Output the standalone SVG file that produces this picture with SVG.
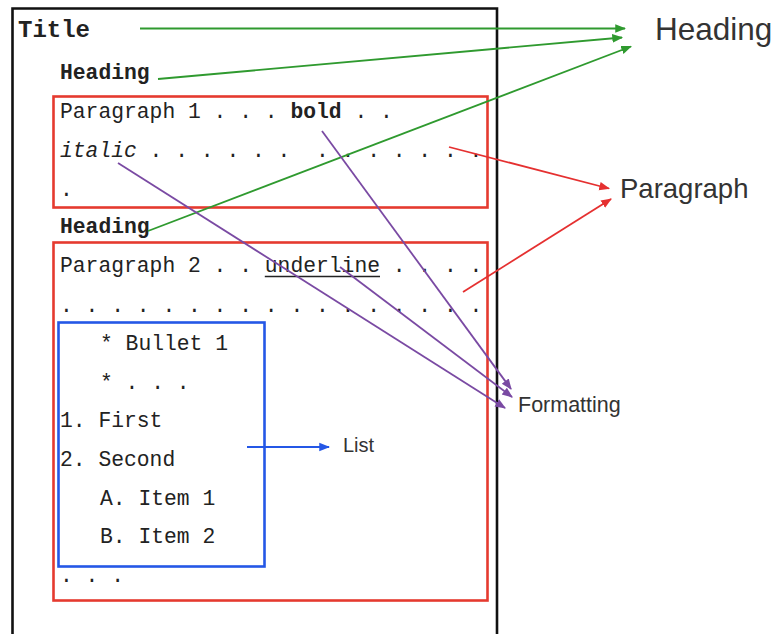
<svg xmlns="http://www.w3.org/2000/svg" width="780" height="634" viewBox="0 0 780 634">
<style>
.mono{font-family:"Liberation Mono","DejaVu Sans Mono",monospace;font-size:21.33px;fill:#222;}
.b{font-weight:bold;}
.i{font-style:italic;}
.lbl{font-family:"Liberation Sans","Helvetica Neue",Arial,sans-serif;fill:#333;font-weight:300;}
.rbox{fill:none;stroke:#e53a2f;stroke-width:2.6;}
.bbox{fill:none;stroke:#2457e6;stroke-width:2.6;}
.g{stroke:#2f9a2f;stroke-width:1.8;fill:none;marker-end:url(#ag);}
.r{stroke:#e53030;stroke-width:1.8;fill:none;marker-end:url(#ar);}
.p{stroke:#7a4aa3;stroke-width:1.8;fill:none;marker-end:url(#ap);}
.bl{stroke:#2457e6;stroke-width:1.8;fill:none;marker-end:url(#ab);}
</style>
<defs>
<marker id="ag" viewBox="0 0 10 10" refX="9" refY="5" markerWidth="6" markerHeight="6" orient="auto" markerUnits="strokeWidth"><path d="M0,1 L10,5 L0,9 z" fill="#2f9a2f"/></marker>
<marker id="ar" viewBox="0 0 10 10" refX="9" refY="5" markerWidth="6" markerHeight="6" orient="auto" markerUnits="strokeWidth"><path d="M0,1 L10,5 L0,9 z" fill="#e53030"/></marker>
<marker id="ap" viewBox="0 0 10 10" refX="9" refY="5" markerWidth="6" markerHeight="6" orient="auto" markerUnits="strokeWidth"><path d="M0,1 L10,5 L0,9 z" fill="#7a4aa3"/></marker>
<marker id="ab" viewBox="0 0 10 10" refX="9" refY="5" markerWidth="6" markerHeight="6" orient="auto" markerUnits="strokeWidth"><path d="M0,1 L10,5 L0,9 z" fill="#2457e6"/></marker>
</defs>
<rect width="780" height="634" fill="#fff"/>

<g id="document">
<path d="M12.5,634 V8.5 H497 V634" fill="none" stroke="#111" stroke-width="2.6"/>
<text class="mono b" x="18" y="37" style="font-size:24px">Title</text>
<text class="mono b" x="60" y="79">Heading</text>
<text class="mono b" x="60" y="233">Heading</text>
</g>

<g id="paragraph1">
<rect class="rbox" x="53.5" y="96.5" width="434" height="111"/>
<text class="mono" x="60" y="118" xml:space="preserve">Paragraph 1 . . . <tspan class="b">bold</tspan> . .</text>
<text class="mono" x="60" y="157" xml:space="preserve"><tspan class="i">italic</tspan> . . . . . .  . . . . . . .</text>
<text class="mono" x="60" y="196">.</text>
</g>

<g id="paragraph2">
<rect class="rbox" x="53.5" y="242.5" width="434" height="358"/>
<text class="mono" x="60" y="272" xml:space="preserve">Paragraph 2 . . underline . . . .</text>
<line x1="264.8" y1="276.5" x2="380" y2="276.5" stroke="#222" stroke-width="1.3"/>
<text class="mono" x="60" y="312" xml:space="preserve">. . . . . . . . . . . . . . . . .</text>
<text class="mono" x="60" y="582" xml:space="preserve">. . .</text>
</g>

<g id="list">
<rect class="bbox" x="58.5" y="322.5" width="206" height="244"/>
<text class="mono" x="100" y="350" xml:space="preserve">* Bullet 1</text>
<text class="mono" x="100" y="389" xml:space="preserve">* . . .</text>
<text class="mono" x="60" y="427" xml:space="preserve">1. First</text>
<text class="mono" x="60" y="466" xml:space="preserve">2. Second</text>
<text class="mono" x="100" y="505" xml:space="preserve">A. Item 1</text>
<text class="mono" x="100" y="543" xml:space="preserve">B. Item 2</text>
</g>

<g id="label-heading"><text class="lbl" x="655" y="40" style="font-size:31.5px">Heading</text></g>
<g id="label-paragraph"><text class="lbl" x="620" y="198" style="font-size:27.5px">Paragraph</text></g>
<g id="label-formatting"><text class="lbl" x="518" y="412" style="font-size:21.5px">Formatting</text></g>
<g id="label-list"><text class="lbl" x="343" y="452" style="font-size:20px">List</text></g>

<g id="connectors">
<line class="g" x1="140" y1="28.5" x2="625" y2="28.5"/>
<line class="g" x1="158" y1="79" x2="622" y2="37.5"/>
<line class="g" x1="148" y1="231" x2="631" y2="46.5"/>
<line class="r" x1="449" y1="147" x2="609" y2="188.5"/>
<line class="r" x1="463" y1="292" x2="611" y2="199"/>
<line class="p" x1="322" y1="131" x2="511" y2="389"/>
<line class="p" x1="340" y1="267" x2="512" y2="397"/>
<line class="p" x1="118" y1="163" x2="505" y2="408"/>
<line class="bl" x1="247" y1="447" x2="329" y2="447"/>
</g>
</svg>
